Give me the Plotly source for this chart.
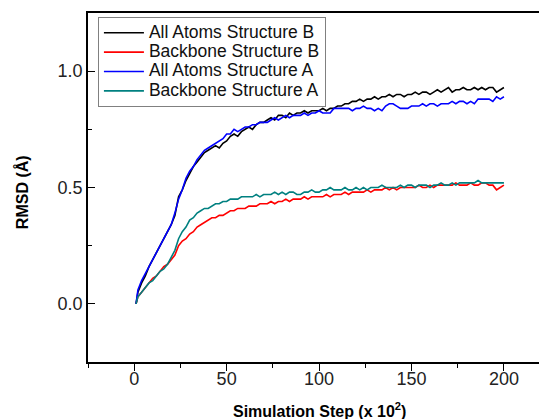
import plotly.graph_objects as go

steps = [1] + list(range(2, 201, 2))

all_atoms_b = [0.00, 0.05, 0.09, 0.12, 0.16, 0.19, 0.22, 0.25, 0.28, 0.31, 0.34,
               0.38, 0.46, 0.49, 0.53, 0.56, 0.59, 0.61, 0.63, 0.65, 0.66,
               0.67, 0.68, 0.67, 0.69, 0.70, 0.72, 0.73, 0.72, 0.74, 0.75,
               0.76, 0.75, 0.77, 0.78, 0.78, 0.79, 0.80, 0.79, 0.81, 0.81,
               0.80, 0.82, 0.81, 0.82, 0.82, 0.83, 0.82, 0.83, 0.83, 0.83,
               0.84, 0.83, 0.84, 0.84, 0.85, 0.85, 0.86, 0.86, 0.87, 0.87,
               0.88, 0.87, 0.88, 0.88, 0.89, 0.88, 0.89, 0.89, 0.90, 0.89,
               0.90, 0.90, 0.89, 0.90, 0.90, 0.91, 0.90, 0.91, 0.91, 0.90,
               0.91, 0.92, 0.91, 0.92, 0.93, 0.91, 0.92, 0.92, 0.93, 0.92,
               0.92, 0.93, 0.92, 0.93, 0.92, 0.93, 0.93, 0.91, 0.92, 0.93]

backbone_b = [0.00, 0.03, 0.05, 0.07, 0.09, 0.11, 0.12, 0.14, 0.16, 0.17, 0.19,
              0.21, 0.25, 0.27, 0.28, 0.30, 0.31, 0.33, 0.34, 0.35, 0.36,
              0.37, 0.37, 0.38, 0.38, 0.39, 0.40, 0.40, 0.41, 0.41, 0.41,
              0.42, 0.42, 0.42, 0.43, 0.43, 0.43, 0.44, 0.43, 0.44, 0.44,
              0.45, 0.44, 0.45, 0.45, 0.45, 0.46, 0.45, 0.46, 0.46, 0.46,
              0.46, 0.47, 0.46, 0.47, 0.47, 0.47, 0.48, 0.47, 0.48, 0.48,
              0.48, 0.48, 0.49, 0.48, 0.49, 0.49, 0.49, 0.50, 0.49, 0.50,
              0.49, 0.50, 0.50, 0.50, 0.50, 0.50, 0.51, 0.50, 0.50, 0.51,
              0.50, 0.51, 0.51, 0.51, 0.51, 0.51, 0.52, 0.51, 0.51, 0.51,
              0.52, 0.51, 0.51, 0.52, 0.52, 0.51, 0.51, 0.49, 0.50, 0.51]

all_atoms_a = [0.00, 0.06, 0.10, 0.13, 0.16, 0.19, 0.22, 0.25, 0.28, 0.31, 0.34,
               0.39, 0.45, 0.49, 0.54, 0.57, 0.59, 0.62, 0.64, 0.66, 0.67,
               0.68, 0.69, 0.70, 0.71, 0.73, 0.73, 0.75, 0.74, 0.75, 0.76,
               0.76, 0.77, 0.77, 0.78, 0.78, 0.78, 0.79, 0.80, 0.79, 0.80,
               0.81, 0.80, 0.81, 0.81, 0.81, 0.82, 0.81, 0.82, 0.82, 0.83,
               0.82, 0.82, 0.82, 0.84, 0.84, 0.84, 0.84, 0.84, 0.83, 0.84,
               0.84, 0.85, 0.84, 0.84, 0.83, 0.84, 0.83, 0.85, 0.86, 0.86,
               0.85, 0.84, 0.84, 0.84, 0.85, 0.85, 0.85, 0.86, 0.85, 0.86,
               0.86, 0.85, 0.86, 0.86, 0.86, 0.87, 0.86, 0.87, 0.87, 0.86,
               0.87, 0.86, 0.88, 0.88, 0.88, 0.88, 0.87, 0.89, 0.88, 0.89]

backbone_a = [0.00, 0.03, 0.05, 0.07, 0.09, 0.10, 0.12, 0.14, 0.15, 0.17, 0.20,
              0.23, 0.28, 0.31, 0.33, 0.36, 0.37, 0.39, 0.40, 0.41, 0.41,
              0.42, 0.43, 0.43, 0.44, 0.44, 0.45, 0.45, 0.45, 0.46, 0.46,
              0.46, 0.46, 0.47, 0.46, 0.47, 0.47, 0.47, 0.48, 0.47, 0.48,
              0.47, 0.48, 0.48, 0.47, 0.47, 0.48, 0.48, 0.49, 0.48, 0.48,
              0.49, 0.49, 0.50, 0.49, 0.49, 0.49, 0.50, 0.49, 0.49, 0.50,
              0.49, 0.50, 0.49, 0.50, 0.50, 0.50, 0.51, 0.50, 0.50, 0.50,
              0.50, 0.51, 0.50, 0.51, 0.51, 0.50, 0.51, 0.51, 0.51, 0.50,
              0.51, 0.51, 0.52, 0.51, 0.51, 0.52, 0.51, 0.52, 0.52, 0.52,
              0.52, 0.52, 0.53, 0.52, 0.52, 0.52, 0.52, 0.52, 0.52, 0.52]

series_names = ["All Atoms Structure B", "Backbone Structure B",
                "All Atoms Structure A", "Backbone Structure A"]
series_values = [all_atoms_b, backbone_b, all_atoms_a, backbone_a]
series_colors = ["#000000", "#ff0000", "#0000ff", "#008080"]

x_ticks = [0, 50, 100, 150, 200]
y_ticks = [0.0, 0.5, 1.0]

FONT = "Liberation Sans, Arial, sans-serif"

fig = go.Figure()
for name, vals, col in zip(series_names, series_values, series_colors):
    fig.add_trace(go.Scatter(
        x=steps, y=vals, mode="lines",
        name='<span style="font-size:17.5px">' + name + '</span>',
        line=dict(color=col, width=1.6)))

fig.update_layout(
    width=539, height=419,
    margin=dict(l=88, r=0, t=13, b=57),
    paper_bgcolor="white", plot_bgcolor="white",
    font=dict(family=FONT, color="#111111"),
    showlegend=True,
    legend=dict(x=0.022, y=0.9885, xanchor="left", yanchor="top",
                bgcolor="white", bordercolor="#808080", borderwidth=1,
                font=dict(size=12.6, family=FONT, color="#111111"),
                tracegroupgap=0, itemwidth=40),
    xaxis=dict(range=[-25, 218.97], tickvals=x_ticks,
               showline=True, linecolor="black", linewidth=1.5, mirror=True,
               ticks="outside", ticklen=7, tickwidth=1.3, tickcolor="black",
               minor=dict(dtick=25, tick0=0, ticks="outside", ticklen=4,
                          tickwidth=1.3, tickcolor="black"),
               showgrid=False, zeroline=False, ticklabelstandoff=-7,
               tickfont=dict(size=18, family=FONT, color="#222222")),
    yaxis=dict(range=[-0.25, 1.25], tickvals=y_ticks, tickformat=".1f",
               showline=True, linecolor="black", linewidth=1.5, mirror=False,
               ticks="inside", ticklen=7, tickwidth=1.3, tickcolor="black",
               minor=dict(dtick=0.25, tick0=0, ticks="inside", ticklen=4,
                          tickwidth=1.3, tickcolor="black"),
               showgrid=False, zeroline=False,
               tickfont=dict(size=18, family=FONT, color="#222222")),
    annotations=[
        dict(text="<b>RMSD (Å)</b>", xref="paper", yref="y", x=0, y=0.48,
             xanchor="center", yanchor="middle", xshift=-66, textangle=-90,
             showarrow=False, font=dict(size=16, family=FONT, color="black")),
        dict(text="<b>Simulation Step (x 10<sup>2</sup>)</b>", xref="x",
             yref="paper", x=100, y=0, xanchor="center", yanchor="middle",
             yshift=-48, showarrow=False,
             font=dict(size=16, family=FONT, color="black")),
    ],
)

fig.write_html("out.html", config={"displayModeBar": False},
               post_script="document.body.style.margin='0';document.body.style.overflow='hidden';")
